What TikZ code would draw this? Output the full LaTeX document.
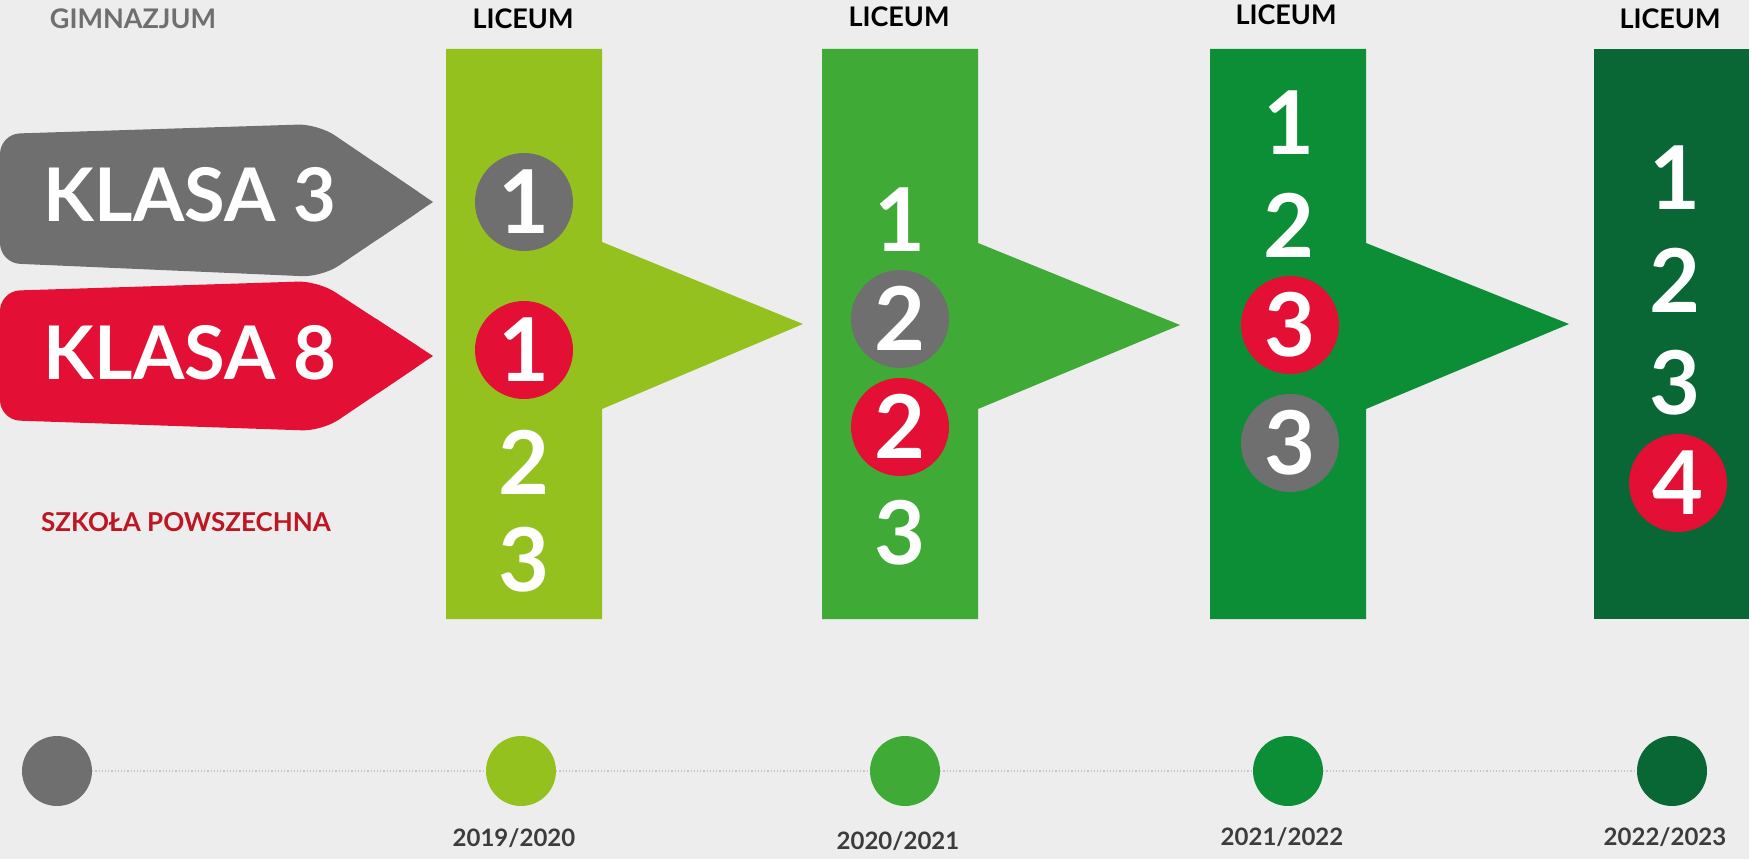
\documentclass[tikz,border=0pt]{standalone}
\usepackage{fontspec}
\usetikzlibrary{calc}
\setmainfont{Lato}
\definecolor{bgc}{HTML}{EDEDED}
\definecolor{kgray}{HTML}{706F6F}
\definecolor{kred}{HTML}{E30F35}
\definecolor{sred}{HTML}{BE1622}
\definecolor{gA}{HTML}{95C11F}
\definecolor{gB}{HTML}{3FAA35}
\definecolor{gC}{HTML}{0B8E36}
\definecolor{gD}{HTML}{086734}
\definecolor{ygray}{HTML}{3C3C3B}
\definecolor{dotc}{HTML}{C6C6C6}
\begin{document}
\begin{tikzpicture}[x=1pt,y=-1pt,
  lbl/.style={font=\fontsize{27}{30}\selectfont\bfseries, inner sep=0pt, text height=19.5pt, text depth=0pt},
  dig/.style={font=\fontsize{88}{90}\selectfont\bfseries, text=white, inner sep=0pt, text height=63pt, text depth=0pt},
  cdig/.style={dig, circle, minimum size=98pt},
  klasa/.style={font=\fontsize{74}{76}\selectfont\bfseries, text=white, inner sep=0pt, text height=53pt, text depth=0pt},
  tdot/.style={circle, minimum size=70pt, inner sep=0pt},
  year/.style={font=\fontsize{24}{26}\selectfont\bfseries, text=ygray, inner sep=0pt, text height=17pt, text depth=0pt},
  dotline/.style={draw=dotc, line width=1.2pt, dotted}
]
\fill[bgc] (0,0) rectangle (1749,859);
\useasboundingbox (0,0) rectangle (1749,859);

% bars
\fill[gA] (446,49) -- (602,49) -- (602,242) -- (803,324) -- (602,409) -- (602,619) -- (446,619) -- cycle;
\fill[gB] (822,49) -- (978,49) -- (978,243) -- (1180,325) -- (978,409) -- (978,619) -- (822,619) -- cycle;
\fill[gC] (1210,49) -- (1366,49) -- (1366,243) -- (1569,324) -- (1366,409) -- (1366,619) -- (1210,619) -- cycle;
\fill[gD] (1594,49) rectangle (1749,619);

% KLASA arrows
\fill[kgray, rounded corners=20pt] (0,200) -- (0,134) -- (318,124) -- (433,202) -- (322,277) -- (0,263) -- cycle;
\fill[kgray] (433,202) -- ($(318,124)!0.5!(433,202)$) -- ($(322,277)!0.5!(433,202)$) -- cycle;
\fill[kred, rounded corners=20pt] (0,356) -- (0,291) -- (318,281) -- (433,356) -- (322,431) -- (0,420) -- cycle;
\fill[kred] (433,356) -- ($(318,281)!0.5!(433,356)$) -- ($(322,431)!0.5!(433,356)$) -- cycle;
\node[klasa] (k3) at (190,195) {KLASA 3};
\node[klasa] (k8) at (190,353) {KLASA 8};

% labels
\node[lbl, text=kgray] (gim) at (133,19) {GIMNAZJUM};
\node[lbl, text=black] (l1) at (523,19) {LICEUM};
\node[lbl, text=black] (l2) at (899,17) {LICEUM};
\node[lbl, text=black] (l3) at (1286,15) {LICEUM};
\node[lbl, text=black] (l4) at (1670,19) {LICEUM};
\node[lbl, text=sred, font=\fontsize{26}{30}\selectfont\bfseries] (szk) at (186,522) {SZKOŁA POWSZECHNA};

% bar 1
\node[cdig, fill=kgray] (a1g) at (524,202) {1};
\node[cdig, fill=kred] (a1r) at (524,350) {1};
\node[dig] (a2) at (524,463) {2};
\node[dig] (a3) at (524,560) {3};
% bar 2
\node[dig] (b1) at (900,220) {1};
\node[cdig, fill=kgray] (b2g) at (900,319) {2};
\node[cdig, fill=kred] (b2r) at (900,427) {2};
\node[dig] (b3) at (900,533) {3};
% bar 3
\node[dig] (c1) at (1289,123) {1};
\node[dig] (c2) at (1289,226) {2};
\node[cdig, fill=kred] (c3r) at (1290,325) {3};
\node[cdig, fill=kgray] (c3g) at (1290,443) {3};
% bar 4
\node[dig] (d1) at (1675,178) {1};
\node[dig] (d2) at (1675,281) {2};
\node[dig] (d3) at (1675,383) {3};
\node[cdig, fill=kred] (d4) at (1678,483) {4};

% timeline
\node[tdot, fill=kgray] (t0) at (57,771) {};
\node[tdot, fill=gA] (t1) at (521,771) {};
\node[tdot, fill=gB] (t2) at (905,771) {};
\node[tdot, fill=gC] (t3) at (1288,771) {};
\node[tdot, fill=gD] (t4) at (1672,771) {};
\draw[dotline] (t0) -- (t1);
\draw[dotline] (t1) -- (t2);
\draw[dotline] (t2) -- (t3);
\draw[dotline] (t3) -- (t4);
\node[year] (y1) at (514,838) {2019/2020};
\node[year] (y2) at (898,841) {2020/2021};
\node[year] (y3) at (1282,837) {2021/2022};
\node[year] (y4) at (1665,837) {2022/2023};
\end{tikzpicture}
\end{document}
